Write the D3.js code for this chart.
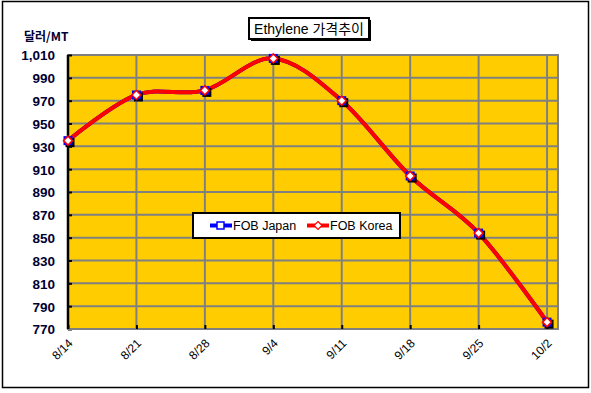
<!DOCTYPE html>
<html>
<head>
<meta charset="utf-8">
<script src="https://cdn.jsdelivr.net/npm/d3@7"></script>
<style>
  body { margin: 0; background: #fff; }
  svg { display: block; font-family: Arial, "Liberation Sans", sans-serif; }
</style>
</head>
<body>
<div id="chart"></div>
<script>
// data
var dates = ["8/14", "8/21", "8/28", "9/4", "9/11", "9/18", "9/25", "10/2"];
var fobJapan = [935, 975, 979, 1007, 970, 904, 854, 776];
var fobKorea = [935, 975, 979, 1007, 970, 904, 854, 776];
var yTicks = [770, 790, 810, 830, 850, 870, 890, 910, 930, 950, 970, 990, 1010];

var W = 591, H = 393;
var plot = {left: 68, right: 558, top: 55, bottom: 329};

var svg = d3.select("#chart").append("svg")
    .attr("width", W).attr("height", H);

// outer frame
svg.append("rect")
    .attr("x", 2.5).attr("y", 1.5)
    .attr("width", 586).attr("height", 386)
    .attr("fill", "#fff").attr("stroke", "#000").attr("stroke-width", 1.5);

var x = d3.scaleLinear().domain([0, 7.16]).range([plot.left, plot.right]);
var y = d3.scaleLinear().domain([770, 1010]).range([plot.bottom, plot.top]);

// plot area
svg.append("rect")
    .attr("x", plot.left).attr("y", plot.top)
    .attr("width", plot.right - plot.left).attr("height", plot.bottom - plot.top)
    .attr("fill", "#FFCC00").attr("stroke", "#808080").attr("stroke-width", 2);

// gridlines
svg.append("g").selectAll("line").data(yTicks.slice(1, -1)).join("line")
    .attr("x1", plot.left).attr("x2", plot.right)
    .attr("y1", d => y(d)).attr("y2", d => y(d))
    .attr("stroke", "#808080").attr("stroke-width", 2);

svg.append("g").selectAll("line").data(d3.range(1, dates.length)).join("line")
    .attr("x1", d => x(d)).attr("x2", d => x(d))
    .attr("y1", plot.top).attr("y2", plot.bottom)
    .attr("stroke", "#808080").attr("stroke-width", 2);

// y axis
var yAxis = d3.axisLeft(y).tickValues(yTicks).tickSize(4).tickFormat(d3.format(","));
var gy = svg.append("g").attr("transform", "translate(" + plot.left + ",0)").call(yAxis);
gy.select(".domain").attr("stroke", "#000").attr("stroke-width", 2.5).attr("d", "M0," + plot.top + "V" + plot.bottom);
gy.selectAll(".tick line").attr("stroke", "#000").attr("stroke-width", 2).attr("x1", 0).attr("x2", 4);
gy.selectAll(".tick text")
    .attr("x", -13).attr("dy", "0.36em")
    .attr("fill", "#000033").attr("font-size", 13.5).attr("font-weight", "bold")
    .attr("font-family", "Arial, 'Liberation Sans', sans-serif");

// x axis
var xAxis = d3.axisBottom(x).tickValues(d3.range(dates.length)).tickSize(-4).tickFormat(i => dates[i]);
var gx = svg.append("g").attr("transform", "translate(0," + plot.bottom + ")").call(xAxis);
gx.select(".domain").attr("stroke", "#808080").attr("stroke-width", 2).attr("d", "M" + plot.left + ",0H" + plot.right);
gx.selectAll(".tick line").attr("stroke", "#000").attr("stroke-width", 2);
gx.selectAll(".tick text")
    .attr("y", 0).attr("dy", 0)
    .attr("transform", "translate(5,15) rotate(-45)")
    .attr("text-anchor", "end")
    .attr("fill", "#000").attr("font-size", 12)
    .attr("font-family", "Arial, 'Liberation Sans', sans-serif");

// series
var line = d3.line().x((d, i) => x(i)).y(d => y(d)).curve(d3.curveCardinal.tension(0));

svg.append("path").datum(fobJapan)
    .attr("d", line).attr("fill", "none").attr("stroke", "#0000FF").attr("stroke-width", 4);

svg.append("path").datum(fobKorea)
    .attr("d", line).attr("fill", "none").attr("stroke", "#FF0000").attr("stroke-width", 4);

// japan markers (square with shadow)
var jm = svg.append("g").selectAll("g").data(fobJapan).join("g")
    .attr("transform", (d, i) => "translate(" + x(i) + "," + y(d) + ")");
jm.append("rect").attr("x", -2.5).attr("y", -2.5).attr("width", 9).attr("height", 9).attr("fill", "#000");
jm.append("rect").attr("x", -4.5).attr("y", -4.5).attr("width", 9).attr("height", 9)
    .attr("fill", "#0000FF");

// korea markers (diamond)
svg.append("g").selectAll("path").data(fobKorea).join("path")
    .attr("transform", (d, i) => "translate(" + x(i) + "," + y(d) + ")")
    .attr("d", "M0,-4.5L4.5,0L0,4.5L-4.5,0Z")
    .attr("fill", "#fff").attr("stroke", "#FF0000").attr("stroke-width", 1.5);

// unit label
svg.append("text").attr("x", 24).attr("y", 41)
    .attr("font-size", 12).attr("font-weight", "bold").attr("fill", "#000033")
    .attr("font-family", "'Noto Sans CJK KR', sans-serif")
    .text("달러/MT");

// title box
svg.append("rect").attr("x", 251).attr("y", 20).attr("width", 120).attr("height", 21).attr("fill", "#000");
svg.append("rect").attr("x", 249).attr("y", 18).attr("width", 120).attr("height", 21)
    .attr("fill", "#fff").attr("stroke", "#000").attr("stroke-width", 2);
svg.append("text").attr("x", 309).attr("y", 33.5).attr("text-anchor", "middle")
    .attr("font-size", 14).attr("fill", "#000")
    .attr("font-family", "Arial, 'Liberation Sans', 'Noto Sans CJK KR', sans-serif")
    .text("Ethylene 가격추이");

// legend
var lg = svg.append("g").attr("transform", "translate(193,213)");
lg.append("rect").attr("width", 207).attr("height", 25)
    .attr("fill", "#fff").attr("stroke", "#000").attr("stroke-width", 2);

var legendItems = [
    {name: "FOB Japan", color: "#0000FF", x0: 17},
    {name: "FOB Korea", color: "#FF0000", x0: 114}
];
var li = lg.selectAll("g.item").data(legendItems).join("g").attr("class", "item")
    .attr("transform", d => "translate(" + d.x0 + ",12.5)");
li.append("line").attr("x1", 0).attr("x2", 22).attr("stroke", d => d.color).attr("stroke-width", 4);
li.filter((d, i) => i === 0).append("rect")
    .attr("x", 7).attr("y", -3.5).attr("width", 7).attr("height", 7)
    .attr("fill", "#fff").attr("stroke", "#0000FF").attr("stroke-width", 1.5);
li.filter((d, i) => i === 1).append("path")
    .attr("d", "M11,-4L15,0L11,4L7,0Z")
    .attr("fill", "#fff").attr("stroke", "#FF0000").attr("stroke-width", 1.2);
li.append("text").attr("x", 23).attr("y", 4.5)
    .attr("font-size", 12.5).attr("fill", "#000")
    .attr("font-family", "Arial, 'Liberation Sans', sans-serif")
    .text(d => d.name);
</script>
</body>
</html>
